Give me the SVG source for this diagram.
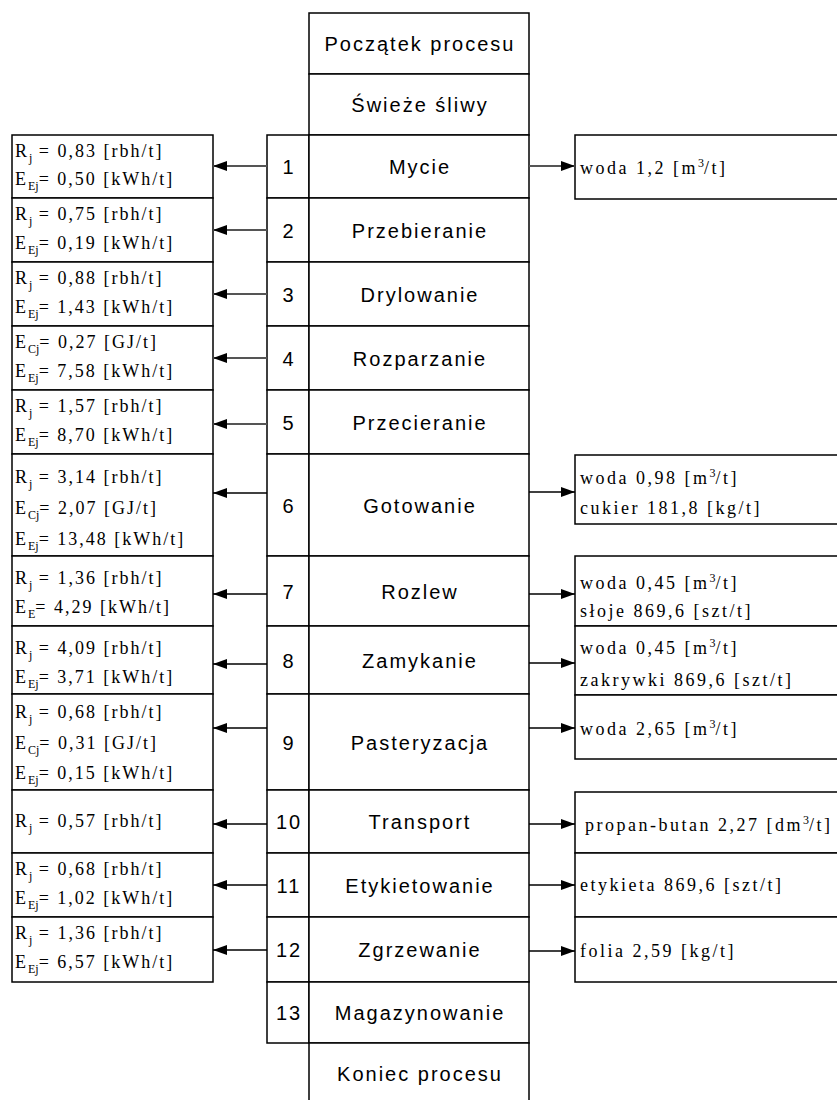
<svg xmlns="http://www.w3.org/2000/svg" width="837" height="1100" viewBox="0 0 837 1100">
<style>
.box{fill:#fff;stroke:#000;stroke-width:1.5}
.c{font-family:"Liberation Sans",Arial,sans-serif;font-size:20px;letter-spacing:2px;text-anchor:middle;fill:#000}
.s{font-family:"Liberation Serif","Times New Roman",serif;font-size:18px;letter-spacing:2px;fill:#000}
.r{letter-spacing:2.5px}
.sub{font-size:12px;letter-spacing:0}
.conn{stroke:#000;stroke-width:1.5;fill:none}
.cg{stroke:#555;stroke-width:2;fill:none}
</style>
<defs>
<marker id="ah" markerUnits="userSpaceOnUse" markerWidth="14" markerHeight="10" refX="14" refY="5" orient="auto">
<path d="M0,0 L14,5 L0,10 z" fill="#000"/>
</marker>
</defs>
<rect width="837" height="1100" fill="#fff"/>

<g id="start"><rect class="box" x="309" y="13" width="220" height="61"/><text class="c" x="420" y="51">Początek procesu</text></g>
<g id="input"><rect class="box" x="309" y="74" width="220" height="61"/><text class="c" x="420" y="112">Świeże śliwy</text></g>

<g id="step1"><rect class="box" x="267" y="135" width="42" height="63"/><rect class="box" x="309" y="135" width="220" height="63"/><text class="c" x="289" y="174">1</text><text class="c" x="420" y="174">Mycie</text></g>
<g id="step2"><rect class="box" x="267" y="198" width="42" height="64"/><rect class="box" x="309" y="198" width="220" height="64"/><text class="c" x="289" y="238">2</text><text class="c" x="420" y="238">Przebieranie</text></g>
<g id="step3"><rect class="box" x="267" y="262" width="42" height="64"/><rect class="box" x="309" y="262" width="220" height="64"/><text class="c" x="289" y="302">3</text><text class="c" x="420" y="302">Drylowanie</text></g>
<g id="step4"><rect class="box" x="267" y="326" width="42" height="64"/><rect class="box" x="309" y="326" width="220" height="64"/><text class="c" x="289" y="366">4</text><text class="c" x="420" y="366">Rozparzanie</text></g>
<g id="step5"><rect class="box" x="267" y="390" width="42" height="64"/><rect class="box" x="309" y="390" width="220" height="64"/><text class="c" x="289" y="430">5</text><text class="c" x="420" y="430">Przecieranie</text></g>
<g id="step6"><rect class="box" x="267" y="454" width="42" height="102"/><rect class="box" x="309" y="454" width="220" height="102"/><text class="c" x="289" y="513">6</text><text class="c" x="420" y="513">Gotowanie</text></g>
<g id="step7"><rect class="box" x="267" y="556" width="42" height="70"/><rect class="box" x="309" y="556" width="220" height="70"/><text class="c" x="289" y="599">7</text><text class="c" x="420" y="599">Rozlew</text></g>
<g id="step8"><rect class="box" x="267" y="626" width="42" height="68"/><rect class="box" x="309" y="626" width="220" height="68"/><text class="c" x="289" y="668">8</text><text class="c" x="420" y="668">Zamykanie</text></g>
<g id="step9"><rect class="box" x="267" y="694" width="42" height="96"/><rect class="box" x="309" y="694" width="220" height="96"/><text class="c" x="289" y="750">9</text><text class="c" x="420" y="750">Pasteryzacja</text></g>
<g id="step10"><rect class="box" x="267" y="790" width="42" height="63"/><rect class="box" x="309" y="790" width="220" height="63"/><text class="c" x="289" y="829">10</text><text class="c" x="420" y="829">Transport</text></g>
<g id="step11"><rect class="box" x="267" y="853" width="42" height="64"/><rect class="box" x="309" y="853" width="220" height="64"/><text class="c" x="289" y="893">11</text><text class="c" x="420" y="893">Etykietowanie</text></g>
<g id="step12"><rect class="box" x="267" y="917" width="42" height="65"/><rect class="box" x="309" y="917" width="220" height="65"/><text class="c" x="289" y="957">12</text><text class="c" x="420" y="957">Zgrzewanie</text></g>
<g id="step13"><rect class="box" x="267" y="982" width="42" height="61"/><rect class="box" x="309" y="982" width="220" height="61"/><text class="c" x="289" y="1020">13</text><text class="c" x="420" y="1020">Magazynowanie</text></g>
<g id="end"><rect class="box" x="309" y="1043" width="220" height="70"/><text class="c" x="420" y="1081">Koniec procesu</text></g>

<g id="left1"><rect class="box" x="12" y="135" width="201" height="63"/>
<text class="s" x="15" y="157">R<tspan class="sub" dy="5">j</tspan><tspan dy="-5"> = 0,83 [rbh/t]</tspan></text>
<text class="s" x="15" y="185">E<tspan class="sub" dy="5">Ej</tspan><tspan dy="-5">= 0,50 [kWh/t]</tspan></text></g>
<g id="left2"><rect class="box" x="12" y="198" width="201" height="64"/>
<text class="s" x="15" y="220">R<tspan class="sub" dy="5">j</tspan><tspan dy="-5"> = 0,75 [rbh/t]</tspan></text>
<text class="s" x="15" y="249">E<tspan class="sub" dy="5">Ej</tspan><tspan dy="-5">= 0,19 [kWh/t]</tspan></text></g>
<g id="left3"><rect class="box" x="12" y="262" width="201" height="64"/>
<text class="s" x="15" y="284">R<tspan class="sub" dy="5">j</tspan><tspan dy="-5"> = 0,88 [rbh/t]</tspan></text>
<text class="s" x="15" y="313">E<tspan class="sub" dy="5">Ej</tspan><tspan dy="-5">= 1,43 [kWh/t]</tspan></text></g>
<g id="left4"><rect class="box" x="12" y="326" width="201" height="64"/>
<text class="s" x="15" y="348">E<tspan class="sub" dy="5">Cj</tspan><tspan dy="-5">= 0,27 [GJ/t]</tspan></text>
<text class="s" x="15" y="377">E<tspan class="sub" dy="5">Ej</tspan><tspan dy="-5">= 7,58 [kWh/t]</tspan></text></g>
<g id="left5"><rect class="box" x="12" y="390" width="201" height="64"/>
<text class="s" x="15" y="412">R<tspan class="sub" dy="5">j</tspan><tspan dy="-5"> = 1,57 [rbh/t]</tspan></text>
<text class="s" x="15" y="441">E<tspan class="sub" dy="5">Ej</tspan><tspan dy="-5">= 8,70 [kWh/t]</tspan></text></g>
<g id="left6"><rect class="box" x="12" y="454" width="201" height="102"/>
<text class="s" x="15" y="483">R<tspan class="sub" dy="5">j</tspan><tspan dy="-5"> = 3,14 [rbh/t]</tspan></text>
<text class="s" x="15" y="514">E<tspan class="sub" dy="5">Cj</tspan><tspan dy="-5">= 2,07 [GJ/t]</tspan></text>
<text class="s" x="15" y="545">E<tspan class="sub" dy="5">Ej</tspan><tspan dy="-5">= 13,48 [kWh/t]</tspan></text></g>
<g id="left7"><rect class="box" x="12" y="556" width="201" height="70"/>
<text class="s" x="15" y="584">R<tspan class="sub" dy="5">j</tspan><tspan dy="-5"> = 1,36 [rbh/t]</tspan></text>
<text class="s" x="15" y="613">E<tspan class="sub" dy="5">E</tspan><tspan dy="-5">= 4,29 [kWh/t]</tspan></text></g>
<g id="left8"><rect class="box" x="12" y="626" width="201" height="68"/>
<text class="s" x="15" y="654">R<tspan class="sub" dy="5">j</tspan><tspan dy="-5"> = 4,09 [rbh/t]</tspan></text>
<text class="s" x="15" y="683">E<tspan class="sub" dy="5">Ej</tspan><tspan dy="-5">= 3,71 [kWh/t]</tspan></text></g>
<g id="left9"><rect class="box" x="12" y="694" width="201" height="96"/>
<text class="s" x="15" y="718">R<tspan class="sub" dy="5">j</tspan><tspan dy="-5"> = 0,68 [rbh/t]</tspan></text>
<text class="s" x="15" y="749">E<tspan class="sub" dy="5">Cj</tspan><tspan dy="-5">= 0,31 [GJ/t]</tspan></text>
<text class="s" x="15" y="779">E<tspan class="sub" dy="5">Ej</tspan><tspan dy="-5">= 0,15 [kWh/t]</tspan></text></g>
<g id="left10"><rect class="box" x="12" y="790" width="201" height="63"/>
<text class="s" x="15" y="827">R<tspan class="sub" dy="5">j</tspan><tspan dy="-5"> = 0,57 [rbh/t]</tspan></text></g>
<g id="left11"><rect class="box" x="12" y="853" width="201" height="64"/>
<text class="s" x="15" y="875">R<tspan class="sub" dy="5">j</tspan><tspan dy="-5"> = 0,68 [rbh/t]</tspan></text>
<text class="s" x="15" y="904">E<tspan class="sub" dy="5">Ej</tspan><tspan dy="-5">= 1,02 [kWh/t]</tspan></text></g>
<g id="left12"><rect class="box" x="12" y="917" width="201" height="65"/>
<text class="s" x="15" y="939">R<tspan class="sub" dy="5">j</tspan><tspan dy="-5"> = 1,36 [rbh/t]</tspan></text>
<text class="s" x="15" y="968">E<tspan class="sub" dy="5">Ej</tspan><tspan dy="-5">= 6,57 [kWh/t]</tspan></text></g>

<g id="right1"><rect class="box" x="575" y="135" width="270" height="64"/>
<text class="s r" x="580" y="174">woda 1,2 [m<tspan class="sub" dy="-7">3</tspan><tspan dy="7">/t]</tspan></text></g>
<g id="right6"><rect class="box" x="575" y="455" width="270" height="69"/>
<text class="s r" x="580" y="484">woda 0,98 [m<tspan class="sub" dy="-7">3</tspan><tspan dy="7">/t]</tspan></text>
<text class="s r" x="580" y="514">cukier 181,8 [kg/t]</text></g>
<g id="right7"><rect class="box" x="575" y="556" width="270" height="70"/>
<text class="s r" x="580" y="589">woda 0,45 [m<tspan class="sub" dy="-7">3</tspan><tspan dy="7">/t]</tspan></text>
<text class="s r" x="580" y="617">słoje 869,6 [szt/t]</text></g>
<g id="right8"><rect class="box" x="575" y="626" width="270" height="69"/>
<text class="s r" x="580" y="654">woda 0,45 [m<tspan class="sub" dy="-7">3</tspan><tspan dy="7">/t]</tspan></text>
<text class="s r" x="580" y="686">zakrywki 869,6 [szt/t]</text></g>
<g id="right9"><rect class="box" x="575" y="695" width="270" height="64"/>
<text class="s r" x="580" y="735">woda 2,65 [m<tspan class="sub" dy="-7">3</tspan><tspan dy="7">/t]</tspan></text></g>
<g id="right10"><rect class="box" x="575" y="792" width="270" height="61"/>
<text class="s r" x="585" y="831">propan-butan 2,27 [dm<tspan class="sub" dy="-7">3</tspan><tspan dy="7">/t]</tspan></text></g>
<g id="right11"><rect class="box" x="575" y="853" width="270" height="64"/>
<text class="s r" x="580" y="891">etykieta 869,6 [szt/t]</text></g>
<g id="right12"><rect class="box" x="575" y="917" width="270" height="65"/>
<text class="s r" x="580" y="957">folia 2,59 [kg/t]</text></g>

<g id="connectors">
<line class="cg" x1="267" y1="166" x2="213" y2="166" marker-end="url(#ah)"/>
<line class="cg" x1="267" y1="230" x2="213" y2="230" marker-end="url(#ah)"/>
<line class="cg" x1="267" y1="294" x2="213" y2="294" marker-end="url(#ah)"/>
<line class="cg" x1="267" y1="358" x2="213" y2="358" marker-end="url(#ah)"/>
<line class="cg" x1="267" y1="424" x2="213" y2="424" marker-end="url(#ah)"/>
<line class="conn" x1="267" y1="493" x2="213" y2="493" marker-end="url(#ah)"/>
<line class="conn" x1="267" y1="594" x2="213" y2="594" marker-end="url(#ah)"/>
<line class="conn" x1="267" y1="664" x2="213" y2="664" marker-end="url(#ah)"/>
<line class="conn" x1="267" y1="728" x2="213" y2="728" marker-end="url(#ah)"/>
<line class="conn" x1="267" y1="824" x2="213" y2="824" marker-end="url(#ah)"/>
<line class="conn" x1="267" y1="885" x2="213" y2="885" marker-end="url(#ah)"/>
<line class="conn" x1="267" y1="950" x2="213" y2="950" marker-end="url(#ah)"/>
<line class="cg" x1="529" y1="166" x2="575" y2="166" marker-end="url(#ah)"/>
<line class="conn" x1="529" y1="492" x2="575" y2="492" marker-end="url(#ah)"/>
<line class="conn" x1="529" y1="594" x2="575" y2="594" marker-end="url(#ah)"/>
<line class="conn" x1="529" y1="663" x2="575" y2="663" marker-end="url(#ah)"/>
<line class="conn" x1="529" y1="728" x2="575" y2="728" marker-end="url(#ah)"/>
<line class="conn" x1="529" y1="824" x2="575" y2="824" marker-end="url(#ah)"/>
<line class="conn" x1="529" y1="885" x2="575" y2="885" marker-end="url(#ah)"/>
<line class="conn" x1="529" y1="951" x2="575" y2="951" marker-end="url(#ah)"/>
</g>
</svg>
